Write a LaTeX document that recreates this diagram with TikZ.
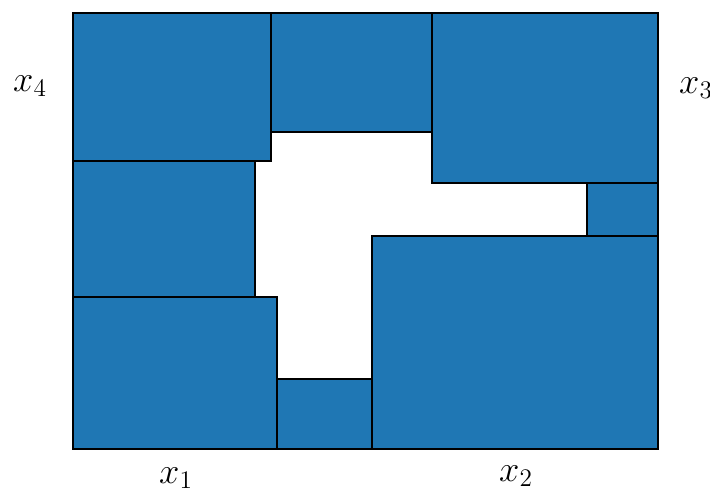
\documentclass[tikz,border=0pt]{standalone}
\usepackage{amsmath, amssymb}
\usepackage{tikz}
\usepackage{xcolor}

\definecolor{tabblue}{RGB}{31,119,180}

\begin{document}
\begin{tikzpicture}[x=0.02cm, y=-0.02cm,
    box/.style={fill=tabblue, draw=black, line width=0.6pt},
    lab/.style={font=\fontsize{21}{24}\selectfont}]
    \useasboundingbox (0,0) rectangle (710,495);

    % blocks
    \draw[box] (73,13) rectangle (271,161);
    \draw[box] (271,13) rectangle (432,132);
    \draw[box] (432,13) rectangle (658,183);
    \draw[box] (587,183) rectangle (658,236);
    \draw[box] (372,236) rectangle (658,449);
    \draw[box] (73,161) rectangle (255,297);
    \draw[box] (73,297) rectangle (277,449);
    \draw[box] (277,379) rectangle (372,449);

    \node[lab] (xone) at (176,478) {\(x_1\)};
    \node[lab] (xtwo) at (516,476) {\(x_2\)};
    \node[lab] (xthree) at (696,88) {\(x_3\)};
    \node[lab] (xfour) at (30,86) {\(x_4\)};
\end{tikzpicture}
\end{document}
